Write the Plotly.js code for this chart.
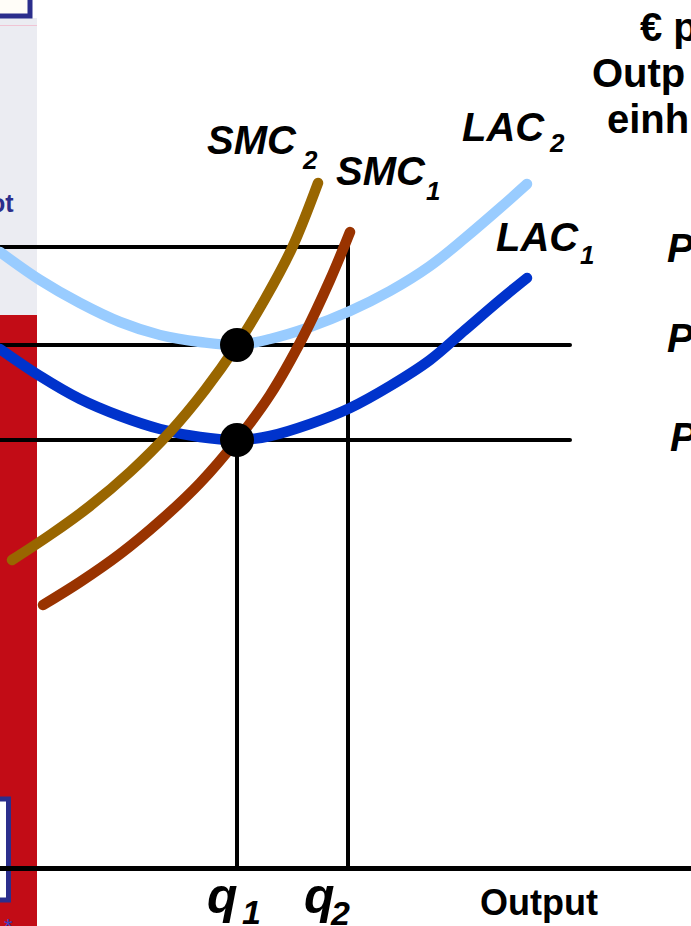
<!DOCTYPE html>
<html>
<head>
<meta charset="utf-8">
<script src="https://cdn.plot.ly/plotly-3.0.1.min.js"></script>
<style>
html,body{margin:0;padding:0;background:#fff;overflow:hidden;}
#chart{width:691px;height:926px;}
.scatterlayer .js-line{stroke-linecap:round;}
</style>
</head>
<body>
<div id="chart"></div>
<script>
// ---- data (output units on x, € per output unit on y) ----
var lac2X = [0, 40, 80, 120, 160, 200, 237, 270, 310, 350, 390, 430, 465, 500, 527];
var lac2Y = [616, 588, 565, 546, 533, 526, 523, 529, 541, 557, 577, 602, 630, 660, 684];

var lac1X = [0, 40, 80, 120, 160, 200, 237, 270, 310, 350, 390, 430, 465, 500, 527];
var lac1Y = [519, 492, 469, 452, 439, 431, 428, 432, 444, 460, 482, 508, 538, 568, 590];

var smc2X = [12, 50, 90, 130, 170, 205, 237, 265, 292, 318];
var smc2Y = [308, 333, 362, 396, 436, 478, 523, 569, 620, 685];

var smc1X = [43, 80, 120, 160, 200, 237, 270, 303, 330, 350];
var smc1Y = [263, 286, 314, 347, 385, 428, 473, 531, 588, 636];

var qLevels = [237, 348];          // q1, q2
var pLevels = [428, 523, 621];     // P1, P2, P3
var priceLineEnd = 570;            // right end of the P1/P2 guides

var curveNames = ['LAC2', 'LAC1', 'SMC2', 'SMC1'];
var curveColors = ['#99CCFF', '#0033CC', '#996600', '#993300'];

// ---- helpers ----
function Y(py) { return 868 - py; }   // layout helper: page pixel row -> y value

var traces = [];
var guideStyle = {color: '#000', width: 4};
traces.push({x: [0, priceLineEnd], y: [pLevels[0], pLevels[0]], mode: 'lines', line: guideStyle, hoverinfo: 'skip'});
traces.push({x: [0, priceLineEnd], y: [pLevels[1], pLevels[1]], mode: 'lines', line: guideStyle, hoverinfo: 'skip'});
traces.push({x: [0, qLevels[1]], y: [pLevels[2], pLevels[2]], mode: 'lines', line: guideStyle, hoverinfo: 'skip'});
traces.push({x: [qLevels[0], qLevels[0]], y: [0, pLevels[0]], mode: 'lines', line: guideStyle, hoverinfo: 'skip'});
traces.push({x: [qLevels[1], qLevels[1]], y: [0, pLevels[2]], mode: 'lines', line: guideStyle, hoverinfo: 'skip'});

var curves = [[lac2X, lac2Y], [lac1X, lac1Y], [smc2X, smc2Y], [smc1X, smc1Y]];
curves.forEach(function (c, i) {
  traces.push({x: c[0], y: c[1], name: curveNames[i], mode: 'lines',
    line: {color: curveColors[i], width: 10.5, shape: 'spline', smoothing: 1}, hoverinfo: 'skip'});
});

traces.push({x: [qLevels[0], qLevels[0]], y: [pLevels[1], pLevels[0]], mode: 'markers',
  marker: {color: '#000', size: 34}, hoverinfo: 'skip'});

var navy = '#2B2E8C';
var shapes = [
  {type: 'rect', layer: 'below', x0: -5, x1: 37, y0: Y(315), y1: Y(18), fillcolor: '#EBECF2', line: {width: 0}},
  {type: 'rect', layer: 'below', x0: -5, x1: 37, y0: Y(930), y1: Y(315), fillcolor: '#C20C16', line: {width: 0}},
  {type: 'line', layer: 'below', x0: -5, x1: 37, y0: Y(25.5), y1: Y(25.5), line: {color: '#F0C4D4', width: 1}},
  {type: 'rect', layer: 'below', x0: -20, x1: 30, y0: Y(16), y1: Y(-20), fillcolor: '#FFFDF8', line: {color: navy, width: 5}},
  {type: 'rect', layer: 'below', x0: -20, x1: 8.5, y0: Y(900), y1: Y(799), fillcolor: '#FFFFFF', line: {color: navy, width: 5}}
];

var F = 'Liberation Sans, Arial, sans-serif';
function lab(txt, x, py, size, extra) {
  var a = {text: txt, x: x, y: Y(py), xref: 'x', yref: 'y', showarrow: false,
    xanchor: 'left', yanchor: 'middle', font: {family: F, size: size, color: '#000'}};
  if (extra) for (var k in extra) a[k] = extra[k];
  return a;
}
var annotations = [
  lab('<b><i>SMC</i></b>', 205, 140, 40),
  lab('<b><i>2</i></b>', 300, 160, 26),
  lab('<b><i>SMC</i></b>', 334, 171, 40),
  lab('<b><i>1</i></b>', 424, 191, 26),
  lab('<b><i>LAC</i></b>', 460, 127, 40),
  lab('<b><i>2</i></b>', 547, 143, 26),
  lab('<b><i>LAC</i></b>', 494, 237, 40),
  lab('<b><i>1</i></b>', 578, 255, 26),
  lab('<b><i>P</i></b>', 665, 248, 40),
  lab('<b><i>P</i></b>', 665, 338, 40),
  lab('<b><i>P</i></b>', 668, 437, 40),
  lab('<b>€ p</b>', 638, 27, 40),
  lab('<b>Outp</b>', 590, 73, 40),
  lab('<b>einh</b>', 605, 119, 40),
  lab('<b><i>q</i></b>', 205, 896, 50),
  lab('<b><i>1</i></b>', 240, 912, 34),
  lab('<b><i>q</i></b>', 302, 896, 50),
  lab('<b><i>2</i></b>', 328, 913, 34),
  lab('<b>Output</b>', 478, 902, 36),
  lab('<b>ot</b>', 16, 203, 25, {xanchor: 'right', font: {family: F, size: 25, color: navy}}),
  lab('*', 8, 926, 22, {xanchor: 'center', font: {family: F, size: 22, color: '#3A3FC0'}})
];

var layout = {
  width: 691, height: 926,
  margin: {l: 0, r: 0, t: 0, b: 0},
  paper_bgcolor: '#fff', plot_bgcolor: '#fff',
  showlegend: false,
  xaxis: {range: [0, 691], showgrid: false, zeroline: false, showticklabels: false, ticks: '', fixedrange: true},
  yaxis: {range: [-58, 868], showgrid: false, zeroline: true, zerolinecolor: '#000', zerolinewidth: 5,
    showticklabels: false, ticks: '', fixedrange: true},
  shapes: shapes,
  annotations: annotations
};

Plotly.newPlot('chart', traces, layout, {staticPlot: true, displayModeBar: false});
</script>
</body>
</html>
